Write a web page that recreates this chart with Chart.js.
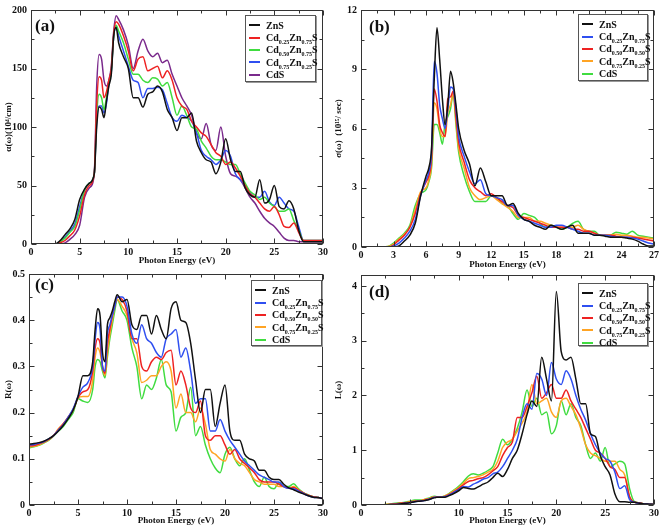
<!DOCTYPE html>
<html>
<head>
<meta charset="utf-8">
<script src="https://cdn.jsdelivr.net/npm/chart.js@4.4.0/dist/chart.umd.min.js"></script>
<style>
  body { margin: 0; background: #fff; }
  #wrap { position: relative; width: 661px; height: 529px; overflow: hidden; }
  #wrap canvas { position: absolute; }
  .legend { position: absolute; background: #fff; border: 1px solid #555; box-shadow: 1px 1px 0 #999;
            font: bold 10px 'Liberation Serif', 'DejaVu Serif', serif; color: #111;
            padding: 3px 0 0 3px; box-sizing: border-box; }
  .legend .row { display: flex; align-items: center; height: 12.4px; white-space: nowrap; }
  .legend .swatch { width: 11px; height: 2px; margin-right: 6px; flex: none; }
  .legend sub { font-size: 6px; vertical-align: -3px; line-height: 0; }
  .tag { position: absolute; font: bold 17px 'Liberation Serif', 'DejaVu Serif', serif; color: #111; }
</style>
</head>
<body>
<div id="wrap"></div>
<script>
// photon energy grids (eV)
const energy30 = [0,0.5,1,1.5,2,2.5,3,3.5,4,4.5,5,5.5,6,6.5,
  6.75,7,7.25,7.5,7.75,8,8.25,8.5,8.75,9,
  9.5,10,10.5,11,11.5,12,12.5,13,13.5,14,14.5,15,15.5,16,16.5,17,17.5,18,18.5,19,19.5,20,
  20.5,21,21.5,22,22.5,23,23.5,24,24.5,25,25.5,26,26.5,27,27.5,28,28.5,29,29.5,30];
const energy27 = [0,0.5,1,1.5,2,2.5,3,3.5,4,4.5,5,5.5,6,
  6.25,6.5,6.75,7,7.25,7.5,7.75,8,8.25,8.5,8.75,9,
  9.5,10,10.5,11,11.5,12,12.5,13,13.5,14,14.5,15,15.5,16,16.5,17,17.5,18,18.5,19,19.5,20,
  20.5,21,21.5,22,22.5,23,23.5,24,24.5,25,25.5,26,26.5,27];

const namesA = ['ZnS', 'Cd0.25Zn0.75S', 'Cd0.50Zn0.75S', 'Cd0.75Zn0.25S', 'CdS'];
const names = ['ZnS', 'Cd0.25Zn0.75S', 'Cd0.50Zn0.50S', 'Cd0.75Zn0.25S', 'CdS'];

// (a) absorption alpha(w) (10^4/cm)
const absZnS = [0,0,0,0,0,0,3,8,13,21,38,47,52,60,
  100,117,115,108,122,135,145,178,185,172,
  160,150,125,125,117,128,130,135,130,115,108,97,108,108,112,88,78,72,70,60,70,90,72,62,62,48,42,40,55,35,38,50,32,30,37,30,12,2,2,2,2,2];
const abs25 = [0,0,0,0,0,0,1,3,7,12,24,42,50,60,
  120,143,140,125,130,140,150,180,190,188,
  178,165,148,158,160,148,150,152,142,148,140,125,118,115,105,100,95,92,85,78,75,68,70,65,58,50,43,40,35,30,28,32,25,15,14,18,10,3,3,3,3,3];
const abs50 = [0,0,0,0,0,0,2,5,10,15,29,46,52,60,
  110,128,125,115,125,138,148,178,187,182,
  172,158,145,145,140,138,142,141,135,138,125,110,118,110,100,98,88,82,75,72,72,70,68,68,60,52,45,42,38,40,35,32,28,28,30,20,12,3,3,3,3,3];
const abs75 = [0,0,0,0,0,0,2,6,11,17,32,46,52,60,
  105,118,118,112,120,137,147,178,186,178,
  165,152,140,138,125,133,133,134,132,120,108,105,110,108,105,95,80,75,72,68,72,80,75,60,55,50,44,40,40,45,36,33,40,35,30,28,15,3,3,3,3,3];
const absCdS = [0,0,0,0,0,0,0,1,4,8,16,40,48,60,
  135,162,158,140,135,140,152,182,195,192,
  183,170,150,165,175,165,160,163,155,157,145,135,125,118,110,95,90,103,85,80,100,75,60,58,55,48,40,35,28,22,18,15,10,5,3,3,2,2,2,2,2,2];

// (b) optical conductivity sigma(w) (10^15/sec)
const condZnS = [0,0,0,0,0,0,0,0.05,0.3,0.6,1.2,2.6,3.6,
  4.0,5.0,8.5,11.1,9.5,7.5,6.2,7.2,8.9,8.3,7.2,6.0,
  4.9,4.2,3.1,4.0,3.3,2.6,2.6,2.6,2.1,2.2,1.7,1.4,1.3,1.1,1.0,0.9,1.1,1.0,0.9,1.0,1.1,0.7,0.7,0.7,0.6,0.6,0.55,0.5,0.5,0.5,0.45,0.4,0.3,0.15,0.05,0.05];
const cond25 = [0,0,0,0,0,0,0.05,0.2,0.45,0.8,1.4,2.6,3.4,
  3.8,4.8,9.4,8.8,7.2,6.5,6.0,7.0,8.1,8.0,7.0,5.6,
  4.6,3.8,3.2,3.4,2.7,2.6,2.5,2.4,2.1,2.1,1.6,1.4,1.3,1.2,1.1,1.0,1.0,1.1,1.1,1.0,0.9,0.8,0.7,0.7,0.6,0.6,0.6,0.55,0.5,0.5,0.5,0.45,0.4,0.3,0.2,0.15];
const cond50 = [0,0,0,0,0,0,0.1,0.35,0.6,1.0,1.7,2.7,3.3,
  3.6,4.5,8.0,7.4,6.2,5.8,5.6,7.5,7.6,7.9,6.6,5.3,
  4.3,3.4,3.0,2.8,2.6,2.7,2.5,2.3,2.1,2.0,1.6,1.5,1.4,1.3,1.2,1.1,1.0,1.0,1.0,1.0,0.9,0.9,0.8,0.8,0.7,0.6,0.6,0.6,0.55,0.5,0.5,0.5,0.45,0.4,0.35,0.3];
const cond75 = [0,0,0,0,0,0.02,0.15,0.4,0.65,1.0,1.9,2.8,3.0,
  3.4,4.2,7.3,7.0,6.0,5.6,5.6,6.8,7.2,7.8,6.4,5.0,
  4.0,3.0,2.6,2.4,2.5,2.6,2.4,2.2,2.0,1.8,1.5,1.5,1.5,1.3,1.3,1.2,1.1,1.0,1.0,1.0,1.0,1.1,0.9,0.8,0.7,0.6,0.6,0.6,0.65,0.6,0.6,0.55,0.5,0.5,0.45,0.4];
const condCdS = [0,0,0,0,0,0.02,0.2,0.45,0.7,1.1,2.1,2.7,2.9,
  3.3,4.0,6.2,6.2,5.8,5.2,6.3,6.6,7.0,7.8,6.2,4.8,
  3.6,2.8,2.3,2.3,2.3,2.6,2.5,2.2,2.1,1.7,1.4,1.7,1.6,1.5,1.2,1.0,1.1,1.0,0.9,1.0,1.2,1.3,0.9,0.8,0.8,0.6,0.6,0.6,0.75,0.7,0.65,0.8,0.6,0.55,0.5,0.45];

// (c) reflectivity R(w)
const refZnS = [0.132,0.133,0.135,0.138,0.143,0.15,0.16,0.172,0.187,0.205,0.235,0.28,0.28,0.31,
  0.38,0.425,0.41,0.33,0.31,0.39,0.405,0.42,0.44,0.455,
  0.44,0.445,0.39,0.38,0.41,0.41,0.37,0.41,0.38,0.36,0.425,0.44,0.4,0.395,0.35,0.27,0.2,0.25,0.25,0.17,0.22,0.26,0.16,0.14,0.14,0.11,0.1,0.095,0.075,0.075,0.06,0.055,0.055,0.045,0.037,0.033,0.028,0.024,0.02,0.017,0.016,0.014];
const ref25 = [0.13,0.131,0.134,0.137,0.143,0.15,0.162,0.174,0.19,0.208,0.235,0.255,0.265,0.3,
  0.36,0.395,0.38,0.3,0.29,0.37,0.39,0.41,0.43,0.45,
  0.45,0.43,0.37,0.35,0.39,0.36,0.35,0.33,0.32,0.36,0.37,0.38,0.32,0.34,0.29,0.22,0.23,0.23,0.16,0.16,0.185,0.16,0.14,0.125,0.11,0.095,0.085,0.075,0.065,0.06,0.055,0.05,0.05,0.04,0.036,0.035,0.03,0.025,0.02,0.017,0.016,0.014];
const ref50 = [0.128,0.129,0.132,0.136,0.142,0.15,0.163,0.176,0.19,0.207,0.232,0.245,0.25,0.29,
  0.34,0.36,0.35,0.3,0.285,0.35,0.38,0.41,0.43,0.45,
  0.445,0.42,0.36,0.36,0.3,0.29,0.31,0.32,0.315,0.33,0.335,0.26,0.29,0.26,0.21,0.2,0.225,0.15,0.14,0.15,0.15,0.13,0.11,0.12,0.1,0.09,0.08,0.07,0.055,0.05,0.05,0.05,0.045,0.04,0.036,0.038,0.032,0.026,0.021,0.018,0.016,0.014];
const ref75 = [0.126,0.127,0.13,0.135,0.141,0.15,0.165,0.176,0.19,0.205,0.232,0.235,0.235,0.27,
  0.32,0.34,0.33,0.3,0.28,0.33,0.37,0.4,0.43,0.445,
  0.43,0.41,0.36,0.33,0.265,0.27,0.28,0.28,0.3,0.31,0.29,0.21,0.24,0.2,0.2,0.18,0.21,0.175,0.12,0.11,0.1,0.095,0.12,0.1,0.09,0.085,0.07,0.055,0.05,0.045,0.045,0.045,0.04,0.04,0.036,0.04,0.033,0.026,0.021,0.018,0.016,0.014];
const refCdS = [0.124,0.126,0.129,0.134,0.14,0.149,0.16,0.17,0.185,0.2,0.23,0.225,0.222,0.25,
  0.3,0.315,0.31,0.29,0.275,0.32,0.36,0.39,0.42,0.445,
  0.42,0.4,0.34,0.3,0.23,0.26,0.25,0.275,0.315,0.26,0.245,0.16,0.19,0.2,0.255,0.15,0.17,0.13,0.1,0.08,0.07,0.11,0.125,0.1,0.085,0.1,0.075,0.05,0.04,0.06,0.04,0.035,0.048,0.04,0.04,0.046,0.035,0.027,0.022,0.018,0.016,0.014];

// (d) energy loss L(w)
const lossZnS = [0,0,0,0,0,0,0.01,0.01,0.02,0.03,0.04,0.06,0.07,0.08,
  0.09,0.1,0.12,0.13,0.14,0.14,0.14,0.14,0.15,0.17,
  0.21,0.26,0.32,0.3,0.29,0.33,0.38,0.42,0.5,0.58,0.52,0.65,0.85,1.0,1.3,1.65,1.9,1.8,2.7,2.3,1.9,3.9,2.8,2.65,2.7,2.3,1.85,1.85,1.3,1.25,0.9,0.7,0.55,0.2,0.06,0.06,0.05,0.05,0.03,0.02,0.015,0.01];
const loss25 = [0,0,0,0,0,0,0.01,0.01,0.02,0.03,0.04,0.06,0.07,0.08,
  0.09,0.11,0.12,0.14,0.14,0.14,0.14,0.15,0.16,0.18,
  0.23,0.28,0.34,0.33,0.38,0.42,0.47,0.5,0.57,0.6,0.7,0.85,1.0,1.2,1.6,1.85,1.75,2.4,2.3,2.0,2.6,2.3,2.2,2.45,2.3,2.0,1.75,1.55,1.3,1.1,0.95,0.85,0.8,0.6,0.3,0.35,0.1,0.05,0.03,0.02,0.015,0.01];
const loss50 = [0,0,0,0,0,0.005,0.01,0.02,0.03,0.04,0.05,0.07,0.07,0.09,
  0.1,0.11,0.13,0.14,0.14,0.14,0.14,0.15,0.17,0.19,
  0.24,0.3,0.37,0.43,0.45,0.48,0.5,0.55,0.62,0.7,0.9,1.05,1.15,1.6,1.6,1.8,2.05,2.35,1.95,2.05,2.2,1.95,1.95,2.1,1.9,1.75,1.6,1.4,1.2,1.0,0.95,0.85,0.7,0.65,0.5,0.5,0.15,0.05,0.04,0.02,0.015,0.01];
const loss75 = [0,0,0,0,0,0.01,0.02,0.02,0.03,0.04,0.06,0.07,0.08,0.1,
  0.11,0.12,0.14,0.15,0.15,0.14,0.15,0.16,0.18,0.2,
  0.26,0.32,0.4,0.48,0.5,0.52,0.55,0.6,0.65,0.8,1.05,1.15,1.2,1.35,1.5,1.7,2.2,1.85,1.9,1.95,1.7,1.6,1.9,1.95,1.8,1.65,1.4,1.1,0.95,0.9,0.85,0.8,0.8,0.8,0.65,0.55,0.15,0.05,0.04,0.02,0.015,0.01];
const lossCdS = [0,0,0,0,0,0.01,0.02,0.03,0.04,0.05,0.07,0.09,0.09,0.1,
  0.12,0.13,0.15,0.16,0.15,0.14,0.15,0.16,0.18,0.21,
  0.27,0.34,0.43,0.53,0.57,0.55,0.58,0.63,0.7,0.95,1.2,1.1,1.2,1.4,1.7,2.1,1.8,1.95,1.65,1.7,1.3,1.45,1.9,1.65,1.85,1.6,1.45,1.1,0.85,0.95,0.8,1.05,0.7,0.75,0.8,0.75,0.3,0.06,0.04,0.02,0.015,0.01];

const colorsA = ['#111111', '#ee2222', '#40dc40', '#2f4ff0', '#7a2a8c'];
const colorsB = ['#111111', '#2f4ff0', '#ee2222', '#ffa424', '#40dc40'];

const serif = "'Liberation Serif', 'DejaVu Serif', serif";

// inward tick marks on all four sides, plus the frame
const frameTicks = {
  id: 'frameTicks',
  afterDatasetsDraw(chart, args, o) {
    const { ctx, chartArea: a } = chart;
    const xs = chart.scales.x, ys = chart.scales.y;
    const L = Math.round(a.left) + 0.5, R = Math.round(a.right) - 0.5;
    const T = Math.round(a.top) + 0.5, B = Math.round(a.bottom) - 0.5;
    ctx.save();
    ctx.strokeStyle = '#333';
    ctx.lineWidth = 1;
    ctx.beginPath();
    const nx = Math.round((xs.max - xs.min) / o.xMinor);
    for (let i = 0; i <= nx; i++) {
      const px = Math.round(xs.getPixelForValue(xs.min + i * o.xMinor)) + 0.5;
      const len = i % 2 === 0 ? 5 : 3;
      ctx.moveTo(px, B); ctx.lineTo(px, B - len);
      ctx.moveTo(px, T); ctx.lineTo(px, T + len);
    }
    const ny = Math.floor((ys.max - ys.min) / o.yMinor + 1e-6);
    for (let i = 0; i <= ny; i++) {
      const py = Math.round(ys.getPixelForValue(ys.min + i * o.yMinor)) + 0.5;
      const len = i % 2 === 0 ? 5 : 3;
      ctx.moveTo(L, py); ctx.lineTo(L + len, py);
      ctx.moveTo(R, py); ctx.lineTo(R - len, py);
    }
    ctx.stroke();
    ctx.strokeRect(L, T, R - L, B - T);
    ctx.restore();
  }
};

function subHtml(name) {
  return name.replace(/(\d\.\d\d)/g, '<sub>$1</sub>');
}

function makePanel(p) {
  const wrap = document.getElementById('wrap');
  const canvas = document.createElement('canvas');
  canvas.width = p.box[2];
  canvas.height = p.box[3];
  canvas.style.left = p.box[0] + 'px';
  canvas.style.top = p.box[1] + 'px';
  wrap.appendChild(canvas);

  const datasets = p.series.map((vals, i) => ({
    label: p.names[i],
    data: vals.map((v, k) => ({ x: p.energy[k], y: v })),
    borderColor: p.colors[i],
    borderWidth: 1.5,
    pointRadius: 0,
    fill: false,
    cubicInterpolationMode: 'monotone'
  }));

  new Chart(canvas.getContext('2d'), {
    type: 'line',
    data: { datasets },
    options: {
      responsive: false,
      animation: false,
      devicePixelRatio: 1,
      layout: { padding: { top: p.pad[0], right: p.pad[1], bottom: 0, left: 0 } },
      plugins: {
        legend: { display: false },
        tooltip: { enabled: false },
        frameTicks: { xMinor: p.xStep / 2, yMinor: p.yStep / 2 }
      },
      scales: {
        x: {
          type: 'linear',
          min: 0, max: p.xMax,
          afterFit: s => { s.height = p.xH; },
          grid: { display: false, drawTicks: false },
          border: { display: false },
          ticks: { stepSize: p.xStep, padding: 2, color: '#111', maxRotation: 0,
                   font: { family: serif, size: 10, weight: 'bold' } },
          title: { display: true, text: 'Photon Energy (eV)', color: '#111',
                   padding: { top: 0, bottom: p.titleBottom },
                   font: { family: serif, size: 9, weight: 'bold' } }
        },
        y: {
          min: 0, max: p.yMax,
          afterFit: s => { s.width = p.yW; },
          grid: { display: false, drawTicks: false },
          border: { display: false },
          ticks: { stepSize: p.yStep, padding: 4, color: '#111', includeBounds: false,
                   font: { family: serif, size: 10, weight: 'bold' } },
          title: { display: true, text: p.yTitle, color: '#111',
                   padding: { top: 3, bottom: 0 },
                   font: { family: serif, size: 9, weight: 'bold' } }
        }
      }
    },
    plugins: [frameTicks]
  });

  const leg = document.createElement('div');
  leg.className = 'legend';
  leg.style.left = p.legend[0] + 'px';
  leg.style.top = p.legend[1] + 'px';
  leg.style.width = p.legend[2] + 'px';
  leg.style.height = p.legend[3] + 'px';
  p.names.forEach((n, i) => {
    const row = document.createElement('div');
    row.className = 'row';
    row.innerHTML = '<span class="swatch" style="background:' + p.colors[i] + '"></span><span>' + subHtml(n) + '</span>';
    leg.appendChild(row);
  });
  wrap.appendChild(leg);

  const tag = document.createElement('div');
  tag.className = 'tag';
  tag.textContent = p.tag;
  tag.style.left = p.tagPos[0] + 'px';
  tag.style.top = p.tagPos[1] + 'px';
  wrap.appendChild(tag);
}

makePanel({
  box: [0, 0, 330, 268], pad: [6, 7], yW: 31, xH: 24, titleBottom: 2,
  energy: energy30, xMax: 30, xStep: 5, yMax: 200, yStep: 50,
  yTitle: 'α(ω)(10⁴/cm)',
  series: [absZnS, abs25, abs50, abs75, absCdS], names: namesA, colors: colorsA,
  legend: [245, 15, 71, 67], tag: '(a)', tagPos: [35, 16]
});
makePanel({
  box: [330, 0, 331, 273], pad: [7, 6], yW: 31, xH: 26, titleBottom: 3,
  energy: energy27, xMax: 27, xStep: 3, yMax: 12, yStep: 3,
  yTitle: 'σ(ω)  (10¹⁵/ sec)',
  series: [condZnS, cond25, cond50, cond75, condCdS], names: names, colors: colorsB,
  legend: [578, 14, 70, 67], tag: '(b)', tagPos: [369, 17]
});
makePanel({
  box: [0, 264, 330, 265], pad: [10, 7], yW: 29, xH: 24, titleBottom: 3,
  energy: energy30, xMax: 30, xStep: 5, yMax: 0.5, yStep: 0.1,
  yTitle: 'R(ω)',
  series: [refZnS, ref25, ref50, ref75, refCdS], names: names, colors: colorsB,
  legend: [251, 280, 71, 66], tag: '(c)', tagPos: [35, 275]
});
makePanel({
  box: [330, 264, 331, 265], pad: [11, 6], yW: 31, xH: 24, titleBottom: 3,
  energy: energy30, xMax: 30, xStep: 5, yMax: 4.2, yStep: 1,
  yTitle: 'L(ω)',
  series: [lossZnS, loss25, loss50, loss75, lossCdS], names: names, colors: colorsB,
  legend: [578, 283, 70, 63], tag: '(d)', tagPos: [369, 282]
});
</script>
</body>
</html>
